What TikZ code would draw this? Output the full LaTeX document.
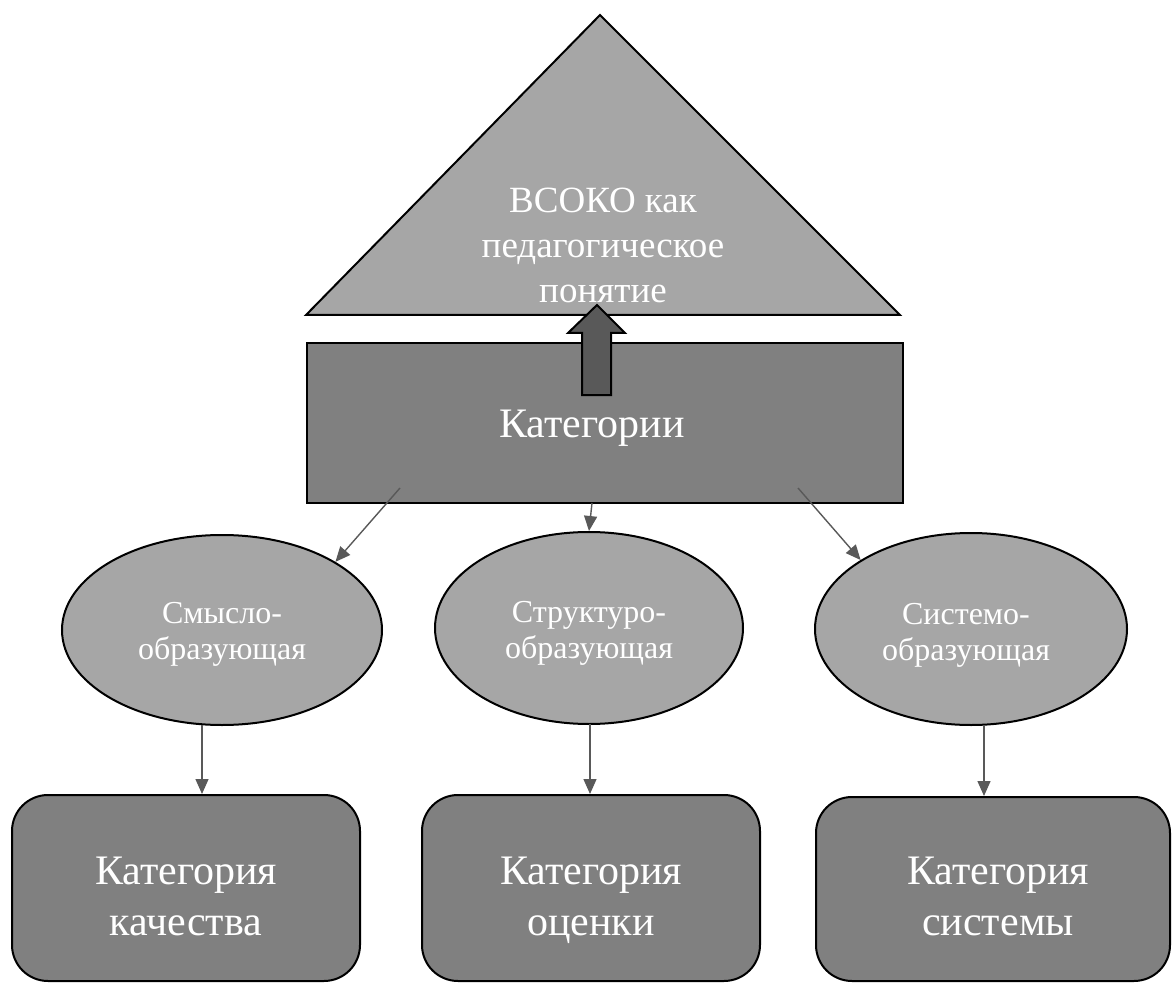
\documentclass[tikz,border=0pt]{standalone}
\usepackage{fontspec}
\setmainfont{Liberation Serif}
\usetikzlibrary{arrows.meta,shapes.geometric}
\definecolor{lightg}{HTML}{A6A6A6}
\definecolor{midg}{HTML}{808080}
\definecolor{darkg}{HTML}{595959}
\begin{document}
\begin{tikzpicture}[x=1pt,y=-1pt,
  outl/.style={draw=black,line width=2pt,line join=miter},
  ellbox/.style={ellipse,outl,fill=lightg,inner sep=0pt},
  catbox/.style={outl,fill=midg,rounded corners=36pt,inner sep=0pt},
  conn/.style={draw=darkg,line width=1.4pt,-{Triangle[length=15pt,width=13pt]}},
  wt/.style={text=white,align=center,inner sep=0pt},
  bigtxt/.style={wt,font=\fontsize{42}{51}\selectfont},
  midtxt/.style={wt,font=\fontsize{37}{45}\selectfont},
  smalltxt/.style={wt,font=\fontsize{32}{36}\selectfont}]
\useasboundingbox (0,0) rectangle (1173,984);
% triangle
\draw[outl,fill=lightg] (600,15) -- (900,315) -- (306,315) -- cycle;
\node[midtxt] (vsoko) at (603,245) {ВСОКО как\\педагогическое\\понятие};
% rectangle
\node[outl,fill=midg,minimum width=596pt,minimum height=160pt,inner sep=0pt] (cat) at (605,423) {};
\node[bigtxt] (cattxt) at (592,428) {Категории};
% up block arrow
\draw[outl,fill=darkg] (582,395) -- (582,333) -- (568,333) -- (597,305) -- (625,333) -- (611,333) -- (611,395) -- cycle;
% ellipses
\node[ellbox,minimum width=320pt,minimum height=190pt] (e1) at (222,630) {};
\node[ellbox,minimum width=308pt,minimum height=192pt] (e2) at (589,628) {};
\node[ellbox,minimum width=312pt,minimum height=192pt] (e3) at (971,629) {};
\node[smalltxt] (t1) at (222,634) {Смысло-\\образующая};
\node[smalltxt] (t2) at (589,633) {Структуро-\\образующая};
\node[smalltxt] (t3) at (966,635) {Системо-\\образующая};
% bottom boxes
\node[catbox,minimum width=348pt,minimum height=186pt] (b1) at (186,888) {};
\node[catbox,minimum width=338pt,minimum height=186pt] (b2) at (591,888) {};
\node[catbox,minimum width=354pt,minimum height=184pt] (b3) at (993,889) {};
\node[bigtxt] (bt1) at (186,896) {Категория\\качества};
\node[bigtxt] (bt2) at (591,900) {Категория\\оценки};
\node[bigtxt] (bt3) at (998,896) {Категория\\системы};
% connectors
\coordinate (s1) at (400,488);
\coordinate (s2) at (592,503);
\coordinate (s3) at (798,488);
\draw[conn] (s1) -- (e1.31);
\draw[conn] (s2) -- (e2.north);
\draw[conn] (s3) -- (e3.148);
\coordinate (d1) at (202,725);
\coordinate (d2) at (590,724);
\coordinate (d3) at (984,725);
\draw[conn] (d1) -- (d1 |- b1.north);
\draw[conn] (d2) -- (d2 |- b2.north);
\draw[conn] (d3) -- (d3 |- b3.north);
\end{tikzpicture}
\end{document}
